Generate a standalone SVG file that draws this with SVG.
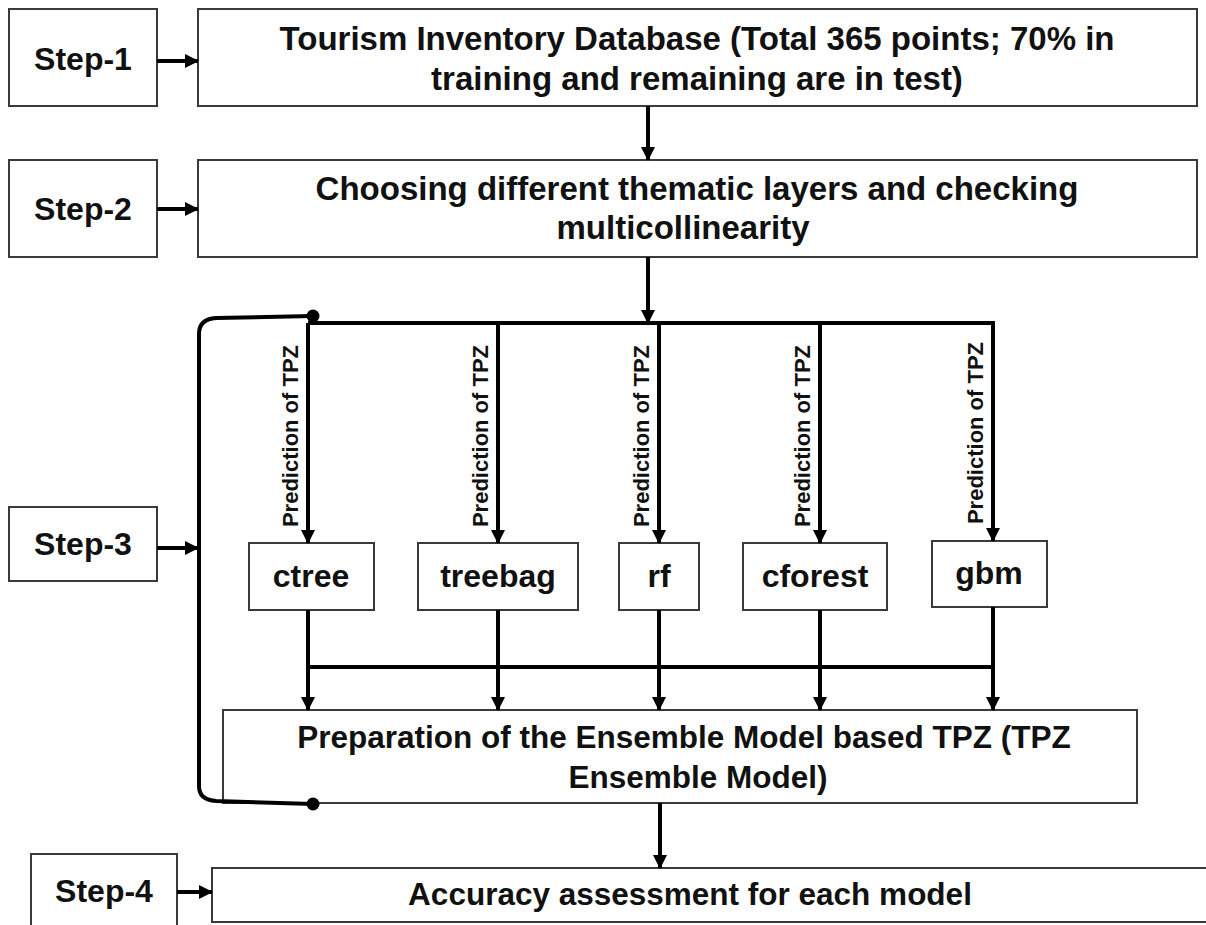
<svg xmlns="http://www.w3.org/2000/svg" width="1206" height="925" viewBox="0 0 1206 925">
  <style>
    .box { fill: #ffffff; stroke: #3a3a3a; stroke-width: 2; }
    .t { font-family: "Liberation Sans", Arial, sans-serif; font-weight: bold; fill: #111; text-anchor: middle; }
    .step { font-size: 32px; }
    .main { font-size: 33px; }
    .model { font-size: 32px; }
    .lbl { font-size: 22px; }
    .c { fill: none; stroke: #000; stroke-width: 4; }
    .ca { fill: none; stroke: #000; stroke-width: 4; marker-end: url(#arr); }
  </style>
  <defs>
    <marker id="arr" markerUnits="userSpaceOnUse" markerWidth="14" markerHeight="14" refX="13" refY="7" orient="auto">
      <path d="M0,0 L14,7 L0,14 z" fill="#000"/>
    </marker>
  </defs>
  <rect width="1206" height="925" fill="#fff"/>

  <g id="step1">
    <rect class="box" x="9" y="9" width="148" height="97"/>
    <text class="t step" x="83" y="70">Step-1</text>
  </g>
  <g id="step2">
    <rect class="box" x="9" y="160" width="148" height="97"/>
    <text class="t step" x="83" y="220">Step-2</text>
  </g>
  <g id="step3">
    <rect class="box" x="9" y="507" width="148" height="74"/>
    <text class="t step" x="83" y="555">Step-3</text>
  </g>
  <g id="step4">
    <rect class="box" x="31" y="854" width="146" height="80"/>
    <text class="t step" x="104" y="902">Step-4</text>
  </g>

  <g id="database">
    <rect class="box" x="198" y="9" width="999" height="97"/>
    <text class="t main" x="697" y="50">Tourism Inventory Database (Total 365 points; 70% in</text>
    <text class="t main" x="697" y="90">training and remaining are in test)</text>
  </g>
  <g id="layers">
    <rect class="box" x="198" y="160" width="999" height="97"/>
    <text class="t main" x="697" y="200">Choosing different thematic layers and checking</text>
    <text class="t main" x="683" y="239">multicollinearity</text>
  </g>

  <g id="ctree">
    <rect class="box" x="249" y="543" width="125" height="67"/>
    <text class="t model" x="311" y="587">ctree</text>
  </g>
  <g id="treebag">
    <rect class="box" x="418" y="543" width="160" height="67"/>
    <text class="t model" x="498" y="587">treebag</text>
  </g>
  <g id="rf">
    <rect class="box" x="619" y="543" width="80" height="67"/>
    <text class="t model" x="659" y="587">rf</text>
  </g>
  <g id="cforest">
    <rect class="box" x="743" y="543" width="144" height="67"/>
    <text class="t model" x="815" y="587">cforest</text>
  </g>
  <g id="gbm">
    <rect class="box" x="932" y="541" width="115" height="66"/>
    <text class="t model" x="989" y="584">gbm</text>
  </g>

  <g id="ensemble">
    <rect class="box" x="223" y="710" width="914" height="93"/>
    <text class="t main" x="684" y="748" style="font-size:31.5px">Preparation of the Ensemble Model based TPZ (TPZ</text>
    <text class="t main" x="698" y="788" style="font-size:31.5px">Ensemble Model)</text>
  </g>
  <g id="accuracy">
    <rect class="box" x="212" y="868" width="1000" height="54"/>
    <text class="t main" x="690" y="905" style="font-size:31.5px">Accuracy assessment for each model</text>
  </g>

  <g id="connectors">
    <line class="ca" x1="157" y1="61" x2="198" y2="61"/>
    <line class="ca" x1="157" y1="209" x2="198" y2="209"/>
    <line class="ca" x1="157" y1="548" x2="198" y2="548"/>
    <line class="ca" x1="177" y1="892" x2="212" y2="892"/>
    <line class="ca" x1="648" y1="106" x2="648" y2="160"/>
    <line class="ca" x1="648" y1="257" x2="648" y2="323"/>
    <line class="c" x1="308" y1="323" x2="995" y2="323"/>
    <path class="c" d="M313,316 L216,318 Q199,319 199,334 L199,786 Q199,800 216,801 L313,804"/>
    <circle cx="313" cy="316" r="6.5" fill="#000"/>
    <circle cx="313" cy="804" r="6.5" fill="#000"/>
    <line class="ca" x1="308" y1="323" x2="308" y2="543"/>
    <line class="ca" x1="498" y1="323" x2="498" y2="543"/>
    <line class="ca" x1="659" y1="323" x2="659" y2="543"/>
    <line class="ca" x1="820" y1="323" x2="820" y2="543"/>
    <line class="ca" x1="993" y1="321" x2="993" y2="541"/>
    <line class="ca" x1="308" y1="610" x2="308" y2="710"/>
    <line class="ca" x1="498" y1="610" x2="498" y2="710"/>
    <line class="ca" x1="659" y1="610" x2="659" y2="710"/>
    <line class="ca" x1="820" y1="610" x2="820" y2="710"/>
    <line class="ca" x1="993" y1="607" x2="993" y2="710"/>
    <line class="c" x1="308" y1="667" x2="993" y2="667"/>
    <line class="ca" x1="660" y1="803" x2="660" y2="868"/>
    <text class="t lbl" transform="translate(298,436) rotate(-90)">Prediction of TPZ</text>
    <text class="t lbl" transform="translate(488,436) rotate(-90)">Prediction of TPZ</text>
    <text class="t lbl" transform="translate(649,436) rotate(-90)">Prediction of TPZ</text>
    <text class="t lbl" transform="translate(810,436) rotate(-90)">Prediction of TPZ</text>
    <text class="t lbl" transform="translate(983,433) rotate(-90)">Prediction of TPZ</text>
  </g>
</svg>
